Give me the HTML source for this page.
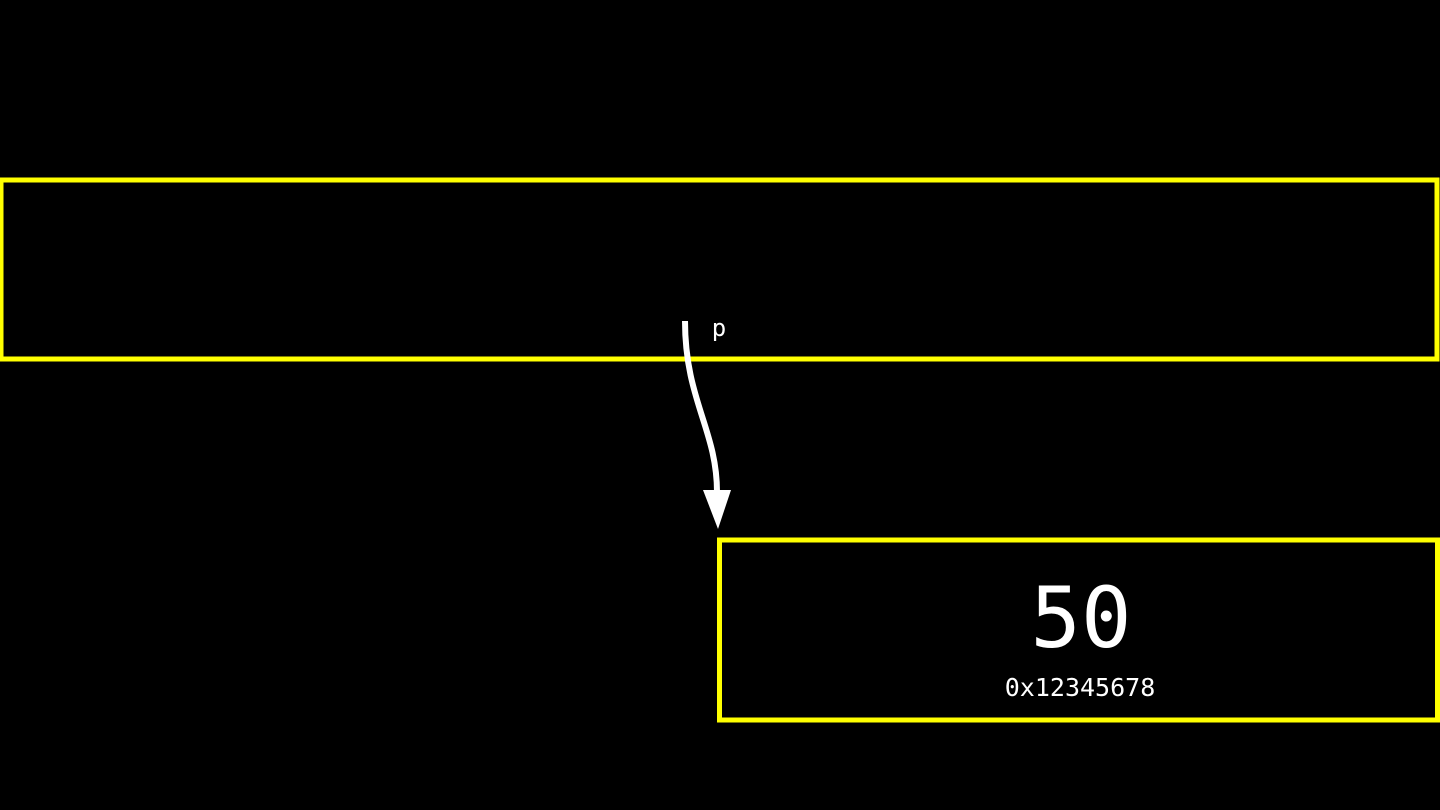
<!DOCTYPE html>
<html><head><meta charset="utf-8"><style>
html,body{margin:0;padding:0;background:#000;width:1440px;height:810px;overflow:hidden}
svg{display:block}
text{font-family:"DejaVu Sans Mono","Liberation Mono",monospace;fill:#fff}
</style></head><body>
<svg width="1440" height="810" viewBox="0 0 1440 810">
<rect x="0" y="0" width="1440" height="810" fill="#000"/>
<rect x="1" y="180" width="1436" height="179" fill="none" stroke="#ffff00" stroke-width="5"/>
<rect x="719.5" y="540" width="718" height="180" fill="none" stroke="#ffff00" stroke-width="5"/>
<path d="M685 321 C685 400 717 430 717 492" fill="none" stroke="#fff" stroke-width="6"/>
<polygon points="703,490 731,490 718,529" fill="#fff"/>
<text x="719" y="336" font-size="24" text-anchor="middle">p</text>
<text x="1081" y="647" font-size="84" text-anchor="middle">50</text>
<text x="1080" y="696" font-size="25" text-anchor="middle">0x12345678</text>
</svg>
</body></html>
